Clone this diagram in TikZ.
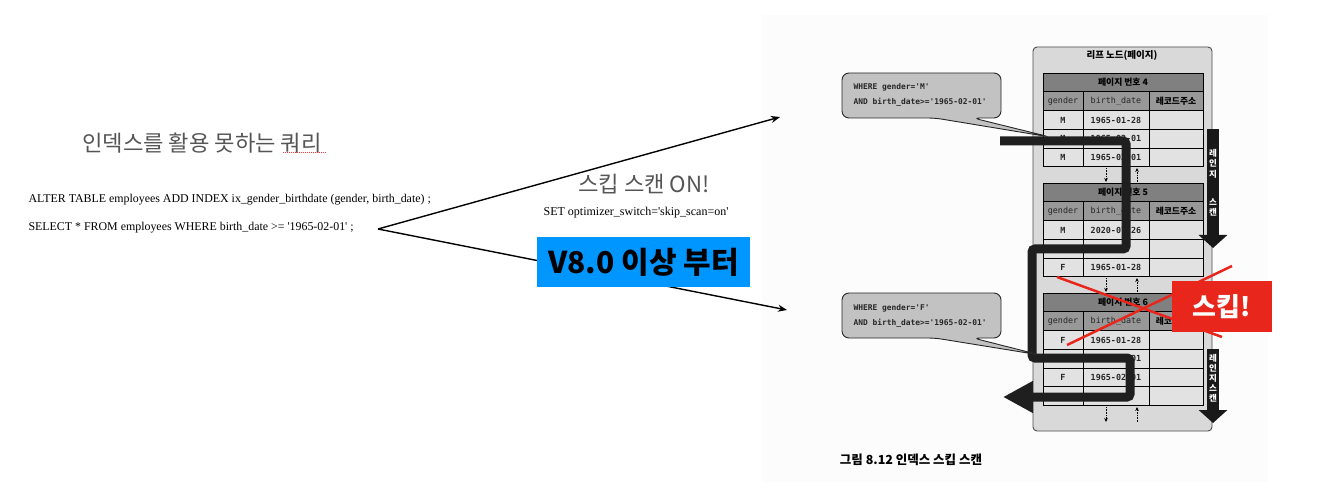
\documentclass[tikz,border=0pt]{standalone}
\usepackage{fontspec}
\setmainfont{Liberation Serif}[Ligatures=TeXOff]
\newfontfamily\krfont{Noto Sans CJK KR}
\newfontfamily\monofont{DejaVu Sans Mono}
\usetikzlibrary{arrows.meta}
\definecolor{skipblue}{HTML}{0096FF}
\definecolor{skipred}{HTML}{E8261C}
\definecolor{leafgray}{HTML}{D9D9D9}
\definecolor{headgray}{HTML}{808080}
\definecolor{colgray}{HTML}{989898}
\definecolor{cellgray}{HTML}{E2E2E2}
\definecolor{bubblegray}{HTML}{C2C2C2}
\definecolor{titlegray}{HTML}{555555}
\tikzset{
  cell/.style={font=\monofont\bfseries\fontsize{8.4}{10}\selectfont, text=black!85},
  hdr/.style={font=\krfont\fontsize{8.8}{10}\selectfont},
  bubble/.style={fill=bubblegray, draw=black!85, line width=0.9pt, rounded corners=7pt},
  scanpath/.style={line width=9pt, draw=black!88},
  rangescan/.style={line width=12pt, draw=black!90, -{Triangle[length=13pt,width=28pt]}},
  pagelink/.style={densely dotted, line width=0.6pt, -{Stealth[length=4pt,width=3.5pt]}},
  sqltext/.style={anchor=west, font=\fontsize{11.9}{13}\selectfont},
  bigtitle/.style={text=titlegray, font=\krfont\fontsize{22.2}{24}\selectfont},
  fork/.style={line width=1.4pt, -{Stealth[length=9pt,width=7pt]}},
}
\begin{document}
\begin{tikzpicture}[x=1pt,y=-1pt]
    \useasboundingbox (0,0) rectangle (1320,489);
    \fill[gray!2] (762,15) rectangle (1268,482);
    \node[bigtitle] (title) at (202,143) {인덱스를 활용 못하는 쿼리};
    \draw[red!80, densely dotted, line width=1pt] (283,153) -- (327,153);
    \node[sqltext] (alter) at (25,200) {ALTER TABLE employees ADD INDEX ix\_gender\_birthdate (gender, birth\_date) ;};
    \node[sqltext] (select) at (25,228) {SELECT * FROM employees WHERE birth\_date >= '1965-02-01' ;};
    \coordinate (split) at (378,229);
    \coordinate (toM) at (780,117);
    \coordinate (toF) at (787,310);
    \draw[fork] (split) -- (toM);
    \draw[fork] (split) -- (toF);
    \node[bigtitle] (skipon) at (644,184) {스킵 스캔 ON!};
    \node[font=\fontsize{12}{13}\selectfont] (setsw) at (636,213) {SET optimizer\_switch='skip\_scan=on'};
    \node[fill=skipblue, minimum width=213pt, minimum height=50pt, font=\krfont\bfseries\fontsize{30}{32}\selectfont] (v80) at (643.5,262) {V8.0 이상 부터};

    \node[draw=black!70, fill=leafgray, rounded corners=4pt, line width=0.9pt, minimum width=179pt, minimum height=384pt] (leaf) at (1122.5,239) {};
    \node[font=\krfont\bfseries\fontsize{9.5}{11}\selectfont] (leaftitle) at (1122,55) {리프 노드(페이지)};
    \foreach \t/\p/\n in {73/4/3, 183/5/3, 293/6/4} {
        \fill[headgray] (1043,\t) rectangle (1203,\t+18.75);
        \fill[colgray] (1043,\t+18.75) rectangle (1203,\t+37.5);
        \fill[cellgray] (1043,\t+37.5) rectangle (1203,\t+37.5+\n*18.75);
        \draw[line width=0.8pt] (1043,\t) rectangle (1203,\t+37.5+\n*18.75);
        \foreach \r in {0,...,\n} \draw[line width=0.8pt] (1043,\t+18.75+\r*18.75) -- (1203,\t+18.75+\r*18.75);
        \draw[line width=0.8pt] (1083,\t+18.75) -- (1083,\t+37.5+\n*18.75);
        \draw[line width=0.8pt] (1149,\t+18.75) -- (1149,\t+37.5+\n*18.75);
        \node[hdr, font=\krfont\bfseries\fontsize{8.8}{10}\selectfont] (page\p) at (1123,\t+9.4) {페이지 번호 \p};
        \node[cell, font=\monofont\fontsize{8.4}{10}\selectfont] (gh\p) at (1063,\t+28.1) {gender};
        \node[cell, font=\monofont\fontsize{8.4}{10}\selectfont] (bh\p) at (1116,\t+28.1) {birth\_date};
        \node[hdr, font=\krfont\bfseries\fontsize{8.8}{10}\selectfont] (ah\p) at (1176,\t+28.1) {레코드주소};
    }
    \foreach \y/\g/\d [count=\i] in {120/M/1965-01-28, 138.75/M/1965-02-01, 157.5/M/1965-02-01,
        230/M/2020-07-26, 267.5/F/1965-01-28,
        340/F/1965-01-28, 358.75/F/1965-02-01, 377.5/F/1965-02-01} {
        \node[cell] (g\i) at (1063,\y) {\g};
        \node[cell] (d\i) at (1116,\y) {\d};
    }
    \foreach \a/\b in {167/183, 277/293, 406/423} {
        \draw[pagelink] (1106,\a+1) -- (1106,\b-1);
        \draw[pagelink] (1137,\b-1) -- (1137,\a+1);
    }
    \draw[scanpath, rounded corners=3pt, -{Triangle[length=30pt,width=30pt]}] (1000,141) -- (1126,141) -- (1126,249) -- (1032,249) -- (1032,358) -- (1130,358) -- (1130,397) -- (1003,397);
    \draw[rangescan] (1213,129) -- (1213,248);
    \draw[rangescan] (1213,349) -- (1213,423);
    \foreach \y/\c in {153/레, 163.5/인, 174/지, 202/스, 212.5/캔, 358/레, 368/인, 378/지, 388/스, 398/캔}
        \node[text=white, font=\krfont\bfseries\fontsize{8.5}{9}\selectfont, inner sep=0pt] (rs\y) at (1213,\y) {\c};

    \draw[bubble] (1050,137) -- (935,118) -- (842,118) -- (842,73) -- (1001,73) -- (1001,118) -- (973,118) -- cycle;
    \node[anchor=west, align=left, font=\monofont\bfseries\fontsize{7.9}{15}\selectfont, text=black!85] (qM) at (850,95) {WHERE gender='M'\\AND birth\_date>='1965-02-01'};
    \draw[bubble] (1040,355) -- (935,338) -- (842,338) -- (842,293) -- (1001,293) -- (1001,338) -- (973,338) -- cycle;
    \node[anchor=west, align=left, font=\monofont\bfseries\fontsize{7.9}{15}\selectfont, text=black!85] (qF) at (850,316) {WHERE gender='F'\\AND birth\_date>='1965-02-01'};

    \draw[skipred, line width=2.5pt] (1057,277) -- (1222,337);
    \draw[skipred, line width=2.5pt] (1067,345) -- (1232,266);
    \node[fill=skipred, text=white, minimum width=100pt, minimum height=51pt, font=\krfont\bfseries\fontsize{26}{28}\selectfont] (skip) at (1222,306.5) {스킵!};
    \node[font=\krfont\bfseries\fontsize{12.5}{14}\selectfont] (caption) at (911,460) {그림 8.12 인덱스 스킵 스캔};
\end{tikzpicture}
\end{document}
